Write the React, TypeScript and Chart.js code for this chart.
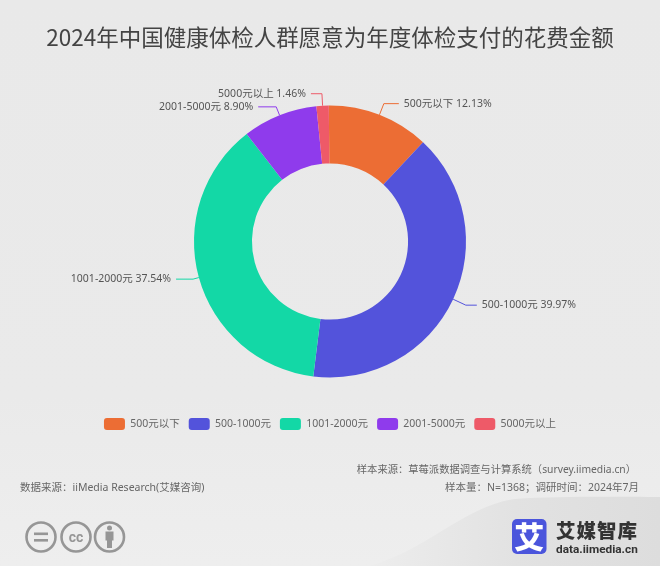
import React, { useEffect, useRef } from "react";
import { Chart, registerables } from "chart.js";

Chart.register(...registerables);

const TITLE = "2024年中国健康体检人群愿意为年度体检支付的花费金额";
const categories = ["500元以下", "500-1000元", "1001-2000元", "2001-5000元", "5000元以上"];
const shares = [12.13, 39.97, 37.54, 8.9, 1.46];
const shareLabels = ["12.13%", "39.97%", "37.54%", "8.90%", "1.46%"];
const colors = ["#EC6D34", "#5353DB", "#13D8A6", "#8F3BEC", "#EE5A68"];

const FONT = '"Noto Sans", "Noto Sans CJK SC", sans-serif';
const CJK = '"Noto Sans CJK SC", "Noto Sans", sans-serif';

// leader line lengths: radial segment, then horizontal segment
const radialLen = [12, 14, 6, 9, 12];
const horizLen = [15, 11, 17, 18, 11];

const leaderPlugin = {
  id: "leaders",
  afterDatasetsDraw(chart: any) {
    const ctx = chart.ctx;
    const arcs = chart.getDatasetMeta(0).data;
    ctx.save();
    ctx.font = `10.5px ${FONT}`;
    ctx.textBaseline = "middle";
    arcs.forEach((arc: any, i: number) => {
      const mid = (arc.startAngle + arc.endAngle) / 2;
      const r = arc.outerRadius;
      const x0 = arc.x + Math.cos(mid) * r;
      const y0 = arc.y + Math.sin(mid) * r;
      const x1 = arc.x + Math.cos(mid) * (r + radialLen[i]);
      const y1 = arc.y + Math.sin(mid) * (r + radialLen[i]);
      const dir = Math.cos(mid) >= 0 ? 1 : -1;
      const x2 = x1 + dir * horizLen[i];
      ctx.strokeStyle = colors[i];
      ctx.lineWidth = 1;
      ctx.beginPath();
      ctx.moveTo(x0, y0);
      ctx.lineTo(x1, y1);
      ctx.lineTo(x2, y1);
      ctx.stroke();
      ctx.fillStyle = "#555";
      ctx.textAlign = dir > 0 ? "left" : "right";
      ctx.fillText(`${categories[i]} ${shareLabels[i]}`, x2 + dir * 5, y1);
    });
    ctx.restore();
  },
};

const footText: React.CSSProperties = {
  position: "absolute",
  fontFamily: FONT,
  fontSize: 10.5,
  color: "#666",
  whiteSpace: "nowrap",
  lineHeight: "14px",
};

export default function App() {
  const ref = useRef<HTMLCanvasElement>(null);
  useEffect(() => {
    const chart = new Chart(ref.current!, {
      type: "doughnut",
      data: {
        labels: categories,
        datasets: [
          {
            data: shares,
            backgroundColor: colors,
            borderWidth: 0,
            radius: 136,
            cutout: "57.4%",
            rotation: -0.5,
          } as any,
        ],
      },
      options: {
        responsive: false,
        animation: false,
        layout: { padding: { bottom: 126 } },
        plugins: {
          tooltip: { enabled: false },
          title: {
            display: true,
            text: TITLE,
            color: "#444",
            font: { family: CJK, size: 22.5, weight: "normal" },
            padding: { top: 24, bottom: 23 },
          },
          legend: {
            position: "bottom",
            labels: {
              boxWidth: 21,
              boxHeight: 12,
              useBorderRadius: true,
              borderRadius: 3,
              color: "#666",
              padding: 9,
              font: { family: FONT, size: 10.5 },
            },
          },
        },
      },
      plugins: [leaderPlugin],
    } as any);
    return () => chart.destroy();
  }, []);

  return (
    <div style={{ position: "absolute", left: 0, top: 0, width: 660, height: 566, overflow: "hidden", background: "linear-gradient(#E9E9E9, #EAEAEA 70%, #EEEEEE)" }}>
      <svg width={660} height={566} style={{ position: "absolute", left: 0, top: 0 }}>
        <defs>
          <linearGradient id="sw" x1="0" y1="0" x2="1" y2="0">
            <stop offset="0" stopColor="#EDEDED" />
            <stop offset="0.5" stopColor="#E2E2E2" />
            <stop offset="1" stopColor="#DDDDDD" />
          </linearGradient>
        </defs>
        <path d="M370 566 C430 548 465 506 515 499 C560 496 620 497 660 497 L660 566 Z" fill="url(#sw)" />
      </svg>
      <canvas ref={ref} width={660} height={566} style={{ position: "absolute", left: 0, top: 0 }} />
      <div style={{ ...footText, left: 20, top: 480 }}>数据来源：iiMedia Research(艾媒咨询)</div>
      <div style={{ ...footText, right: 24, top: 462, fontSize: 10.3 }}>样本来源：草莓派数据调查与计算系统（survey.iimedia.cn）</div>
      <div style={{ ...footText, right: 21, top: 480 }}>样本量：N=1368；调研时间：2024年7月</div>
      <svg width={110} height={40} style={{ position: "absolute", left: 22, top: 517 }}>
        <g fill="none" stroke="#969696" strokeWidth={2.6}>
          <circle cx={19} cy={20} r={14.5} />
          <circle cx={54} cy={20} r={14.5} />
          <circle cx={87.5} cy={20} r={14.5} />
        </g>
        <rect x={12} y={15.5} width={14} height={2.6} fill="#969696" />
        <rect x={12} y={22} width={14} height={2.6} fill="#969696" />
        <text x={54} y={25} textAnchor="middle" fontSize={14} fontWeight={700} fontFamily="Roboto" fill="#969696">cc</text>
        <circle cx={87.5} cy={11} r={2.5} fill="#969696" />
        <rect x={83.5} y={14.5} width={8} height={9} fill="#969696" />
        <rect x={85} y={23} width={5} height={8} fill="#969696" />
      </svg>
      <svg width={150} height={50} style={{ position: "absolute", left: 512, top: 517 }}>
        <rect x={0} y={2} width={34.5} height={35} rx={5} fill="#4B55DC" />
        <text x={17.2} y={31} textAnchor="middle" fontSize={30} fontWeight={900} fontFamily={CJK} fill="#fff">艾</text>
        <text x={44} y={21} fontSize={19.5} fontWeight={900} fontFamily={CJK} fill="#333" letterSpacing={1}>艾媒智库</text>
        <text x={44} y={36} fontSize={11.8} fontWeight={700} fontFamily="Roboto" fill="#333">data.iimedia.cn</text>
      </svg>
    </div>
  );
}
